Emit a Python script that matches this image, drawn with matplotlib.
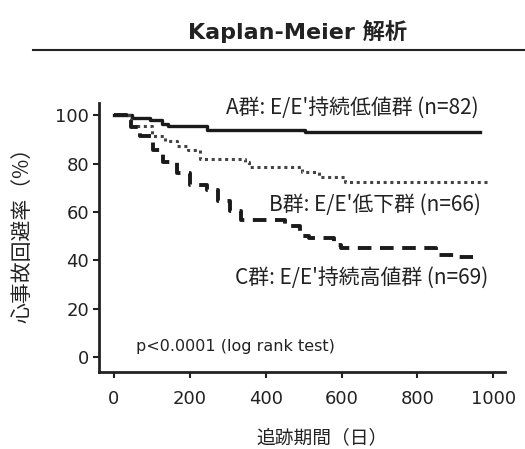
import numpy as np
import matplotlib

matplotlib.use('Agg')
import matplotlib.pyplot as plt

plt.rcParams['font.family'] = ['DejaVu Sans', 'Noto Sans CJK JP']

# A群: 持続低値群
days_a = [0, 48, 95, 127, 143, 245, 505, 965]
surv_a = [100, 99, 98, 96.5, 95.5, 94, 93, 93]

# B群: 低下群
days_b = [0, 45, 100, 135, 165, 195, 228, 345, 355, 495, 540, 610, 985]
surv_b = [100, 95.5, 91.5, 89.5, 87.5, 85.5, 82, 80.5, 78.5, 76.5, 74.5, 72.5, 72.5]

# C群: 持続高値群
days_c = [0, 45, 70, 103, 130, 165, 200, 245, 275, 307, 335, 450, 490, 515, 580, 598, 850, 905, 947]
surv_c = [100, 95, 91.5, 85.5, 80.5, 76.3, 71.3, 69, 64.5, 60.3, 56.7, 54, 50, 49, 46.5, 45, 42.2, 41.2, 41.2]

xticks = [0, 200, 400, 600, 800, 1000]
yticks = [0, 20, 40, 60, 80, 100]

ink = '#222222'
jp = ['Noto Sans CJK JP', 'DejaVu Sans']

fig = plt.figure(figsize=(5.25, 4.49), dpi=100)
ax = fig.add_axes([0.1895, 0.172, 0.7725, 0.598])

ax.step(days_a, surv_a, where='post', color='#1a1a1a', lw=2.4)
ax.step(days_b, surv_b, where='post', color='#444444', lw=2.2, linestyle=(0, (1, 1.2)))
ax.step(days_c, surv_c, where='post', color='#1a1a1a', lw=2.8, linestyle=(0, (3.5, 2.2)))

ax.set_xlim(-38, 1031)
ax.set_ylim(-6.2, 105)
ax.set_xticks(xticks)
ax.set_yticks(yticks)
ax.tick_params(axis='both', labelsize=13, colors=ink, width=1.5, length=4)
ax.tick_params(axis='x', pad=9)
for s in ['top', 'right']:
    ax.spines[s].set_visible(False)
for s in ['left', 'bottom']:
    ax.spines[s].set_linewidth(2)
    ax.spines[s].set_color(ink)

ax.text(962, 103.3, "A群: E/E'持続低値群 (n=82)", ha='right', va='center', fontsize=15, color=ink,
        family=jp, clip_on=False)
ax.text(966, 63, "B群: E/E'低下群 (n=66)", ha='right', va='center', fontsize=15, color=ink, family=jp)
ax.text(986, 32.7, "C群: E/E'持続高値群 (n=69)", ha='right', va='center', fontsize=15, color=ink, family=jp)
ax.text(58, 4.2, "p<0.0001 (log rank test)", ha='left', va='center', fontsize=11.5, color=ink)

ax.set_xlabel("追跡期間（日）", fontsize=13.5, color=ink, family=jp)
ax.xaxis.set_label_coords(0.549, -0.205)
ax.set_ylabel("心事故回避率（%）", fontsize=15, color=ink, family=jp)
ax.yaxis.set_label_coords(-0.163, 0.53)

fig.text(0.567, 0.93, "Kaplan-Meier 解析", ha='center', va='center', fontsize=16, fontweight='bold', color=ink)
fig.add_artist(plt.Line2D([0.063, 1.0], [0.889, 0.889], color=ink, lw=1.5))

fig.savefig('out.png', dpi=100)
